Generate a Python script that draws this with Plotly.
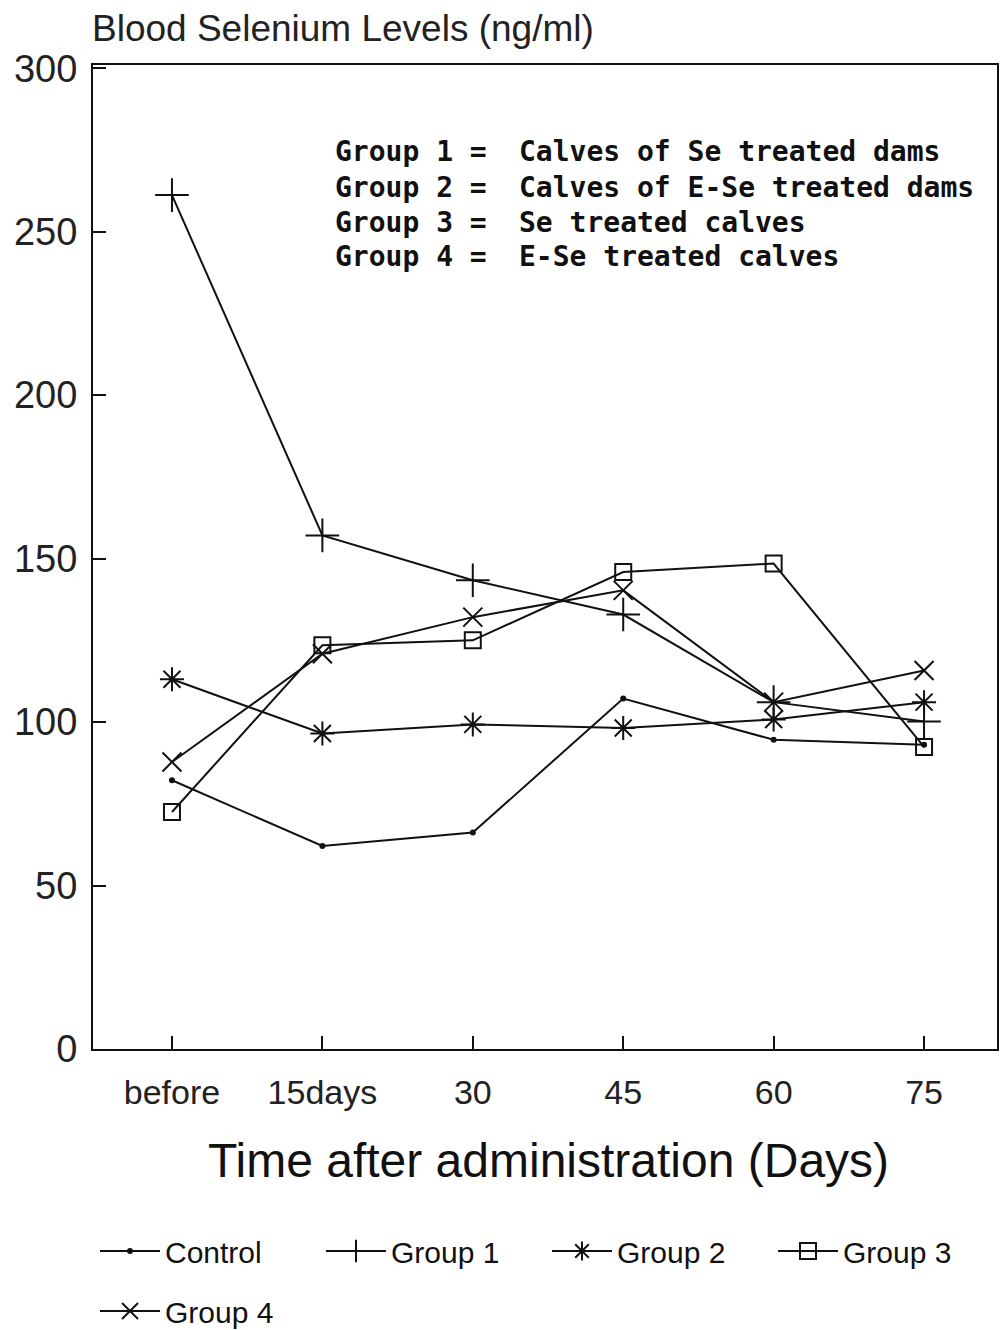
import plotly.graph_objects as go

days = ["before", "15days", "30", "45", "60", "75"]
control = [82.2, 62.1, 66.2, 107.2, 94.6, 93.1]
group1 = [261.2, 157.1, 143.4, 132.9, 106.1, 100.2]
group2 = [113.1, 96.5, 99.3, 98.2, 100.8, 106.1]
group3 = [72.5, 123.5, 125.0, 145.9, 148.5, 92.4]
group4 = [87.8, 120.9, 132.1, 140.3, 106.1, 115.8]

series = [
    ("Control", control, dict(symbol="circle", size=6), "legend"),
    ("Group 1", group1, dict(symbol="cross-thin-open", size=24, line=dict(width=2, color="#111")), "legend"),
    ("Group 2", group2, dict(symbol="asterisk-open", size=20, line=dict(width=2, color="#111")), "legend"),
    ("Group 3", group3, dict(symbol="square-open", size=16, line=dict(width=2, color="#111")), "legend"),
    ("Group 4", group4, dict(symbol="x-thin-open", size=19, line=dict(width=2, color="#111")), "legend2"),
]

key_groups = ["Group 1 =", "Group 2 =", "Group 3 =", "Group 4 ="]
key_texts = ["Calves of Se treated dams", "Calves of E-Se treated dams",
             "Se treated calves", "E-Se treated calves"]

fig = go.Figure()
for name, vals, mk, lg in series:
    fig.add_trace(go.Scatter(
        x=days, y=vals, name=name, mode="lines+markers",
        line=dict(color="#111", width=2),
        marker=dict(color="#111", **mk),
        legend=lg,
    ))

sans = "Liberation Sans, Arial, sans-serif"
W, H = 1002, 1330
L, R, T, B = 93, 5, 65, 281
pw, ph = W - L - R, H - T - B


def px_y(ypix):
    return 1 - (ypix - T) / ph


def px_x(xpix):
    return (xpix - L) / pw


def leg(ytop):
    return dict(
        orientation="h", x=px_x(95), xanchor="left",
        y=px_y(ytop), yanchor="top",
        font=dict(size=30, family=sans, color="#111"),
        entrywidth=151, entrywidthmode="pixels",
        itemwidth=60, tracegroupgap=0, bgcolor="rgba(0,0,0,0)",
    )


fig.update_layout(
    width=W, height=H,
    margin=dict(l=L, r=R, t=T, b=B, autoexpand=False),
    paper_bgcolor="white", plot_bgcolor="white",
    font=dict(family=sans, color="#222"),
    showlegend=True,
    legend=leg(1225),
    legend2=leg(1285),
    xaxis=dict(
        type="category", range=[-0.525, 5.485],
        showline=True, linecolor="#111", linewidth=2, mirror=True,
        ticks="inside", ticklen=13, tickwidth=1.5, tickcolor="#111",
        showgrid=False, zeroline=False,
        tickfont=dict(size=34, family=sans, color="#222"),
        ticklabelstandoff=12,
    ),
    yaxis=dict(
        range=[0, 301], tickvals=[0, 50, 100, 150, 200, 250, 300],
        showline=True, linecolor="#111", linewidth=2, mirror=True,
        ticks="inside", ticklen=13, tickwidth=1.5, tickcolor="#111",
        showgrid=False, zeroline=False,
        tickfont=dict(size=38, family=sans, color="#222"),
        ticklabelstandoff=6,
    ),
)

fig.add_annotation(
    text="Blood Selenium Levels (ng/ml)", xref="paper", yref="paper",
    x=px_x(90), y=px_y(28), xanchor="left", yanchor="middle",
    showarrow=False, font=dict(size=37, family=sans, color="#222"),
)
fig.add_annotation(
    text="Time after administration (Days)", xref="paper", yref="paper",
    x=px_x(548), y=px_y(1160), xanchor="center", yanchor="middle",
    showarrow=False, font=dict(size=48, family=sans, color="#111"),
)

mono = "DejaVu Sans Mono, Liberation Mono, monospace"
for i, (g, t) in enumerate(zip(key_groups, key_texts)):
    yp = px_y(152 + i * 35)
    fig.add_annotation(text="<b>" + g + "</b>", xref="paper", yref="paper",
                       x=px_x(333), y=yp, xanchor="left", yanchor="middle",
                       showarrow=False, font=dict(size=28, family=mono, color="#111"))
    fig.add_annotation(text="<b>" + t + "</b>", xref="paper", yref="paper",
                       x=px_x(517), y=yp, xanchor="left", yanchor="middle",
                       showarrow=False, font=dict(size=28, family=mono, color="#111"))

fig.write_html(
    "out.html",
    config=dict(displayModeBar=False),
    post_script="document.body.style.margin='0';document.body.style.overflow='hidden';",
)
